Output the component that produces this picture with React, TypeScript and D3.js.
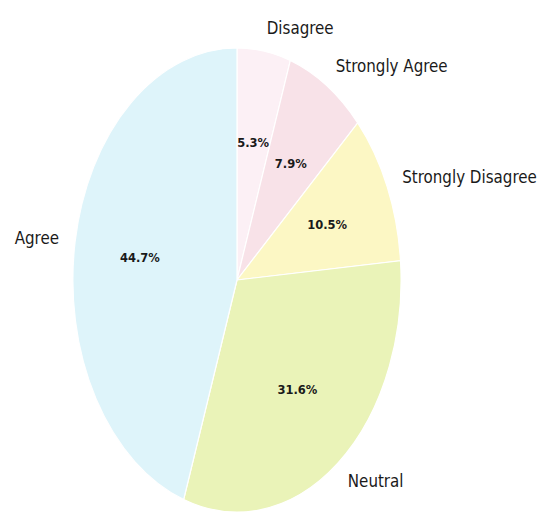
import React from "react";
import * as d3 from "d3";

const categories = ["Disagree", "Strongly Agree", "Strongly Disagree", "Neutral", "Agree"];
const counts = [2, 3, 4, 12, 17];
const colors = ["#fcf0f5", "#f8e2e8", "#fcf7c4", "#eaf3b8", "#def4fa"];

export default function App() {
  const W = 539, H = 514;
  const cx = 237, cy = 280, rx = 164, ry = 232;
  const total = d3.sum(counts);
  const pie = d3.pie<number>().sort(null).value((d) => d)(counts);
  const arc = d3.arc<d3.PieArcDatum<number>>().innerRadius(0).outerRadius(1);
  const font = "'DejaVu Sans Condensed', 'DejaVu Sans', sans-serif";
  return (
    <svg width={W} height={H} style={{ position: "absolute", left: 0, top: 0 }}>
      <rect width={W} height={H} fill="#fff" />
      <g transform={`translate(${cx},${cy}) scale(${rx},${ry})`}>
        {pie.map((p, i) => (
          <path key={i} d={arc(p) || ""} fill={colors[i]} stroke="#ffffff" strokeWidth={1.2} vectorEffect="non-scaling-stroke" />
        ))}
      </g>
      {pie.map((p, i) => {
        const mid = (p.startAngle + p.endAngle) / 2;
        const sx = Math.sin(mid), sy = -Math.cos(mid);
        const lx = cx + 1.1 * rx * sx, ly = cy + 1.1 * ry * sy;
        const px = cx + 0.6 * rx * sx, py = cy + 0.6 * ry * sy;
        return (
          <g key={i}>
            <text x={lx} y={ly} textAnchor={sx >= 0 ? "start" : "end"} dominantBaseline="central"
              fontFamily={font} fontSize={16.8} fill="#1a1a1a">{categories[i]}</text>
            <text x={px} y={py} textAnchor="middle" dominantBaseline="central"
              fontFamily={font} fontSize={12.8} fontWeight="bold" fill="#1a1a1a">
              {((p.value / total) * 100).toFixed(1) + "%"}
            </text>
          </g>
        );
      })}
    </svg>
  );
}
